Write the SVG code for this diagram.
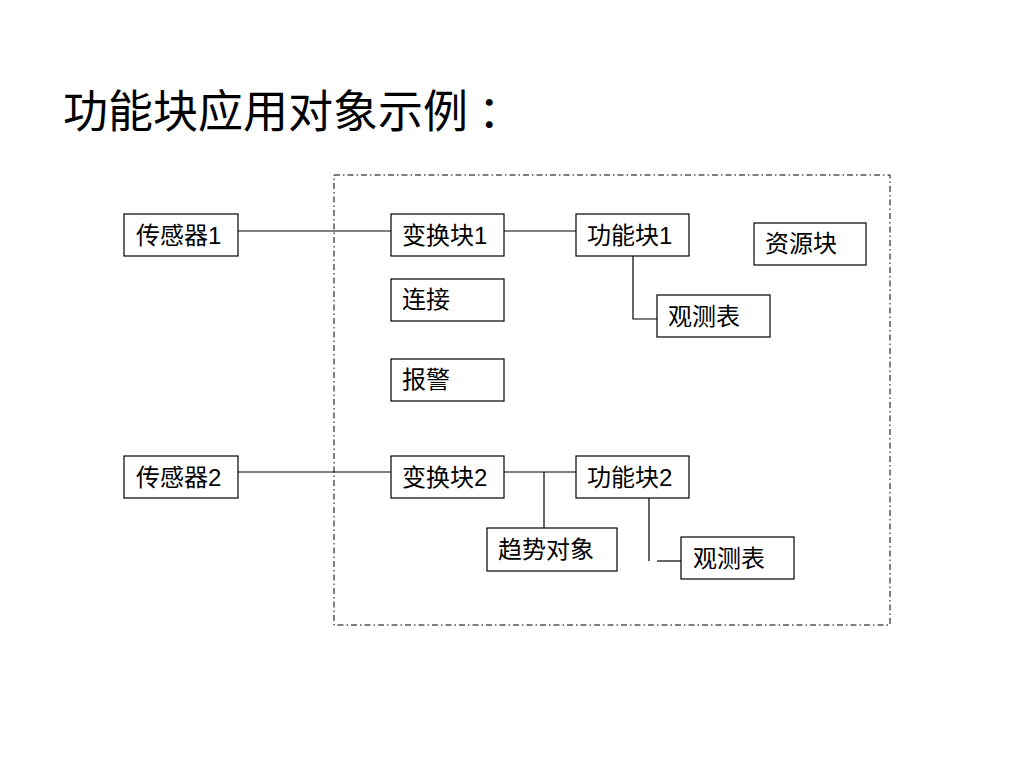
<svg xmlns="http://www.w3.org/2000/svg" width="1024" height="768" viewBox="0 0 1024 768">
<style>
.box{fill:#fff;stroke:#000;stroke-width:1.2}
.lbl{font-family:"Liberation Sans","Noto Sans CJK SC",sans-serif;font-size:24px;fill:#000}
.ln{stroke:#000;stroke-width:1.2;fill:none}
.title{font-family:"Liberation Sans","Noto Sans CJK SC",sans-serif;font-size:45px;fill:#000}
</style>
<rect width="1024" height="768" fill="#fff"/>
<text class="title" x="63" y="128">功能块应用对象示例<tspan x="478">：</tspan></text>
<rect id="boundary" x="334" y="175" width="556" height="450" fill="none" stroke="#000" stroke-width="1" stroke-dasharray="6,3,1.5,3"/>
<g id="connectors">
<path class="ln" d="M238,231 H391"/>
<path class="ln" d="M504,231 H576"/>
<path class="ln" d="M633,256 V319 H657"/>
<path class="ln" d="M238,472 H391"/>
<path class="ln" d="M504,472 H576"/>
<path class="ln" d="M544,472 V528"/>
<path class="ln" d="M649,498 V561"/>
<path class="ln" d="M657,561 H681"/>
</g>
<g id="sensor1"><rect class="box" x="124" y="214" width="114" height="42"/><text class="lbl" x="136" y="244">传感器1</text></g>
<g id="transform1"><rect class="box" x="391" y="214" width="113" height="42"/><text class="lbl" x="402" y="244">变换块1</text></g>
<g id="func1"><rect class="box" x="576" y="214" width="113" height="42"/><text class="lbl" x="587" y="244">功能块1</text></g>
<g id="resource"><rect class="box" x="754" y="223" width="112" height="42"/><text class="lbl" x="765" y="252">资源块</text></g>
<g id="obs1"><rect class="box" x="657" y="295" width="113" height="42"/><text class="lbl" x="668" y="325">观测表</text></g>
<g id="link"><rect class="box" x="391" y="279" width="113" height="42"/><text class="lbl" x="402" y="308">连接</text></g>
<g id="alarm"><rect class="box" x="391" y="359" width="113" height="42"/><text class="lbl" x="402" y="388">报警</text></g>
<g id="sensor2"><rect class="box" x="124" y="456" width="114" height="42"/><text class="lbl" x="136" y="486">传感器2</text></g>
<g id="transform2"><rect class="box" x="391" y="456" width="113" height="42"/><text class="lbl" x="402" y="486">变换块2</text></g>
<g id="func2"><rect class="box" x="576" y="456" width="113" height="42"/><text class="lbl" x="587" y="486">功能块2</text></g>
<g id="trend"><rect class="box" x="487" y="528" width="130" height="43"/><text class="lbl" x="498" y="558">趋势对象</text></g>
<g id="obs2"><rect class="box" x="681" y="537" width="113" height="42"/><text class="lbl" x="693" y="567">观测表</text></g>
</svg>
